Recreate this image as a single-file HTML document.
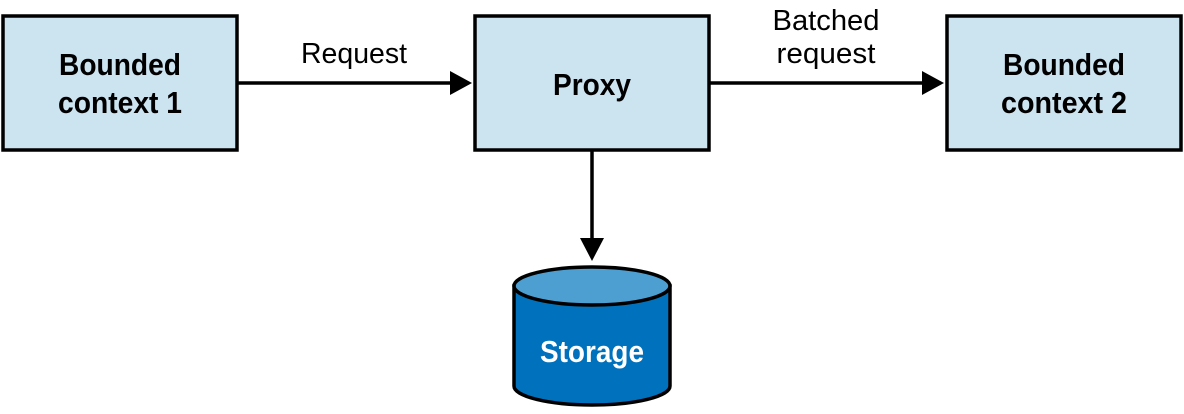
<!DOCTYPE html>
<html><head><style>
body{margin:0;background:#fff}
svg text{font-family:"Liberation Sans",sans-serif}
</style></head><body>
<svg width="1184" height="409" viewBox="0 0 1184 409" xmlns="http://www.w3.org/2000/svg">
<g fill="#cce3f0" stroke="#000" stroke-width="3.5">
<rect x="3" y="16" width="234" height="134"/>
<rect x="475" y="16" width="234" height="134"/>
<rect x="947" y="16" width="234" height="134"/>
</g>
<g stroke="#000" stroke-width="3.5">
<line x1="237" y1="83" x2="452" y2="83"/>
<line x1="709" y1="83" x2="924" y2="83"/>
<line x1="592" y1="150" x2="592" y2="240"/>
</g>
<g fill="#000">
<polygon points="450,71 472,83 450,95"/>
<polygon points="922,71 944,83 922,95"/>
<polygon points="580,238 604,238 592,261"/>
</g>
<path d="M514,286 L514,386 A78,19 0 0 0 670,386 L670,286 Z" fill="#0071bc" stroke="#000" stroke-width="3.5"/>
<ellipse cx="592" cy="286" rx="78" ry="19" fill="#4d9fd2" stroke="#000" stroke-width="3.5"/>
<g font-size="31" font-weight="bold" text-anchor="middle" fill="#000" lengthAdjust="spacingAndGlyphs">
<text x="120" y="75" textLength="122" lengthAdjust="spacingAndGlyphs">Bounded</text>
<text x="120" y="113" textLength="124" lengthAdjust="spacingAndGlyphs">context 1</text>
<text x="592" y="95" textLength="78" lengthAdjust="spacingAndGlyphs">Proxy</text>
<text x="1064" y="75" textLength="122" lengthAdjust="spacingAndGlyphs">Bounded</text>
<text x="1064" y="113" textLength="126" lengthAdjust="spacingAndGlyphs">context 2</text>
<text x="592" y="362" fill="#fff" textLength="104" lengthAdjust="spacingAndGlyphs">Storage</text>
</g>
<g font-size="29" text-anchor="middle" fill="#000">
<text x="354" y="63" textLength="106" lengthAdjust="spacingAndGlyphs">Request</text>
<text x="826" y="30" textLength="107" lengthAdjust="spacingAndGlyphs">Batched</text>
<text x="826" y="63" textLength="99" lengthAdjust="spacingAndGlyphs">request</text>
</g>
</svg>
</body></html>
